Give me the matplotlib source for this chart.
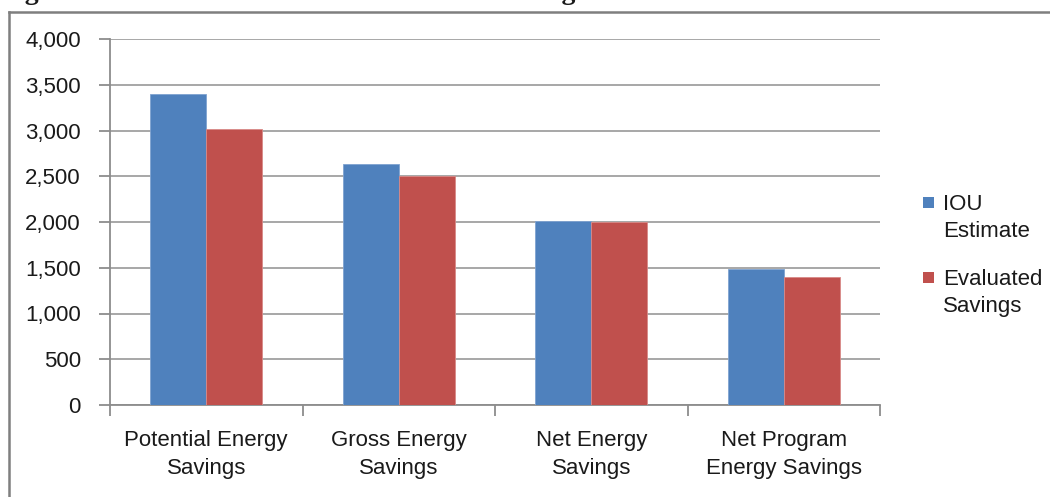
import matplotlib
matplotlib.use("Agg")
import matplotlib.pyplot as plt
import numpy as np
from matplotlib.lines import Line2D
from matplotlib.patches import Rectangle

categories = ["Potential Energy\nSavings", "Gross Energy\nSavings",
              "Net Energy\nSavings", "Net Program\nEnergy Savings"]
series_names = ["IOU\nEstimate", "Evaluated\nSavings"]
iou_estimate = [3400, 2635, 2015, 1490]
evaluated_savings = [3020, 2505, 2000, 1400]
y_ticks = [0, 500, 1000, 1500, 2000, 2500, 3000, 3500, 4000]
y_tick_labels = ["0", "500", "1,000", "1,500", "2,000", "2,500", "3,000", "3,500", "4,000"]

BLUE = "#4F81BD"
RED = "#C0504D"
GRID = "#A0A0A0"
AXIS = "#8C8C8C"
TEXT = "#1a1a1a"
FONT = "Liberation Sans"
FS = 16

plt.rcParams["font.family"] = [FONT, "DejaVu Sans"]

W, H = 1050, 497
fig = plt.figure(figsize=(W / 100, H / 100), dpi=100)
ax = fig.add_axes([110 / W, 1 - 405 / H, 770 / W, 366 / H])

x = np.arange(len(categories))
w = 0.29
ax.bar(x - w / 2, iou_estimate, width=w, color=BLUE, edgecolor="#7FA3D1",
       linewidth=0.6, zorder=3)
ax.bar(x + w / 2, evaluated_savings, width=w, color=RED, edgecolor="#D88A88",
       linewidth=0.6, zorder=3)

ax.set_xlim(-0.5, len(categories) - 0.5)
ax.set_ylim(0, 4000)
ax.set_yticks(y_ticks)
ax.set_yticklabels(y_tick_labels, fontsize=FS, color=TEXT)
ax.yaxis.grid(True, color=GRID, linewidth=1.3, zorder=0)

# category labels centred, tick marks at category boundaries
ax.set_xticks(x)
ax.set_xticklabels(categories, fontsize=FS, color=TEXT, linespacing=1.45)
ax.tick_params(axis="x", length=0, pad=18)
ax.set_xticks(np.arange(len(categories) + 1) - 0.5, minor=True)
ax.tick_params(axis="x", which="minor", length=8, width=1.3, color=AXIS)
ax.tick_params(axis="y", length=8, width=1.3, color=AXIS, pad=13)

for side in ["top", "right"]:
    ax.spines[side].set_visible(False)
for side in ["left", "bottom"]:
    ax.spines[side].set_color(AXIS)
    ax.spines[side].set_linewidth(1.3)

# legend: square key aligned with the first line of each two-line label
legend_colors = [BLUE, RED]
legend_tops = [197, 272]
for name, col, top in zip(series_names, legend_colors, legend_tops):
    fig.add_artist(Rectangle((923 / W, 1 - (top + 11) / H), 11 / W, 11 / H,
                             transform=fig.transFigure, facecolor=col,
                             edgecolor="none"))
    fig.text(943 / W, 1 - (top - 3) / H, name, fontsize=FS, color=TEXT,
             ha="left", va="top", linespacing=1.4)

# chart area border (left and top edges)
fig.add_artist(Line2D([9 / W, 9 / W], [0.0, 1 - 12 / H],
                      transform=fig.transFigure, color="#7F7F7F", linewidth=1.8))
fig.add_artist(Line2D([9 / W, 1.0], [1 - 12 / H, 1 - 12 / H],
                      transform=fig.transFigure, color="#7F7F7F", linewidth=1.8))

# caption line above the chart
fig.text(0.0, 1 + 1 / H, "Figure 12: IOU Estimated and Evaluated Savings",
         fontsize=20, fontweight="bold", family="Liberation Serif",
         ha="left", va="baseline", color=TEXT)

fig.savefig("out.png", dpi=100)
